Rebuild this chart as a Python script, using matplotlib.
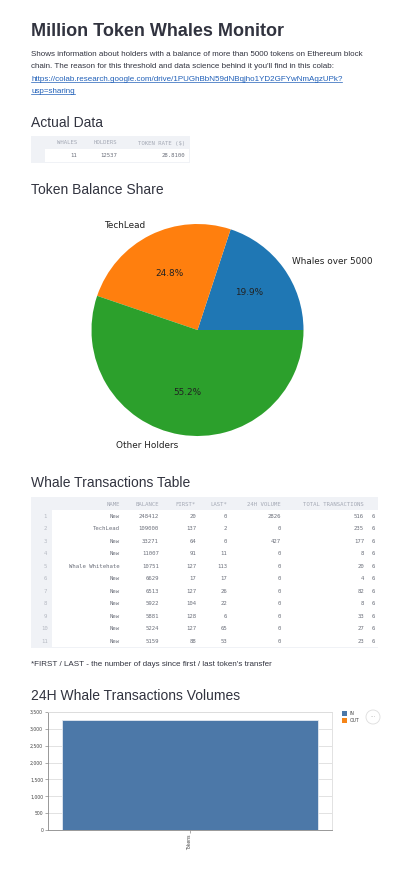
import numpy as np
import matplotlib.pyplot as plt
from matplotlib.patches import Rectangle, Ellipse
from matplotlib.lines import Line2D
from matplotlib.ticker import FuncFormatter

W, H = 401, 871

# ---- data ----
summary_cols = ['WHALES', 'HOLDERS', 'TOKEN RATE ($)']
summary_vals = ['11', '12537', '28.8100']

share_labels = ['Whales over 5000', 'TechLead', 'Other Holders']
share_values = [19.94, 24.84, 55.22]

table_cols = ['NAME', 'BALANCE', 'FIRST*', 'LAST*', '24H VOLUME', 'TOTAL TRANSACTIONS']
whale_names = ['New', 'TechLead', 'New', 'New', 'Whale Whitehate', 'New',
               'New', 'New', 'New', 'New', 'New']
whale_balance = [248412, 109000, 33271, 11007, 10751, 6629, 6513, 5922, 5881, 5224, 5159]
whale_first = [20, 137, 64, 91, 127, 17, 127, 104, 128, 127, 88]
whale_last = [0, 2, 0, 11, 113, 17, 26, 22, 6, 65, 53]
whale_vol24 = [2826, 0, 427, 0, 0, 0, 0, 0, 0, 0, 0]
whale_total_tx = [516, 235, 177, 8, 20, 4, 82, 8, 33, 27, 23]

vol_categories = ['Tokens']
vol_in = [3253]
vol_out = [0]

TEXT = '#31333F'
HEAD_FONT = ['Liberation Sans', 'DejaVu Sans']
MONO = 'DejaVu Sans Mono'

fig = plt.figure(figsize=(W / 100, H / 100), dpi=100)
fig.patch.set_facecolor('white')


def fx(x):
    return x / W


def fy(y):
    return 1 - y / H


def txt(x, y, s, **kw):
    return fig.text(fx(x), fy(y), s, **kw)


def rect(x0, y0, x1, y1, color, **kw):
    r = Rectangle((fx(x0), fy(y1)), (x1 - x0) / W, (y1 - y0) / H,
                  transform=fig.transFigure, facecolor=color, edgecolor='none', **kw)
    fig.add_artist(r)
    return r


# ---- header / description ----
txt(31, 36, 'Million Token Whales Monitor', fontsize=13, fontweight='bold',
    family=HEAD_FONT, color=TEXT, va='baseline')

desc = ['Shows information about holders with a balance of more than 5000 tokens on Ethereum block',
        "chain. The reason for this threshold and data science behind it you'll find in this colab:"]
link = ['https://colab.research.google.com/drive/1PUGhBbN59dNBqjho1YD2GFYwNmAgzUPk?',
        'usp=sharing']
line_y = [56, 68.5, 81, 93]
for s, y in zip(desc, line_y[:2]):
    txt(31, y, s, fontsize=5.75, family=HEAD_FONT, color=TEXT, va='baseline')
link_texts = []
for s, y in zip(link, line_y[2:]):
    link_texts.append((txt(31, y, s, fontsize=5.75, family=HEAD_FONT, color='#1f5fb8',
                           va='baseline'), y))

# ---- section headings ----
for s, y in [('Actual Data', 127), ('Token Balance Share', 194),
             ('Whale Transactions Table', 487), ('24H Whale Transactions Volumes', 700)]:
    txt(31, y, s, fontsize=10, family=HEAD_FONT, color=TEXT, va='baseline')

# ---- small summary table ----
rect(31, 136, 190, 163, '#f0f2f6')
rect(45, 149, 189, 162, 'white')
sum_right = [77, 117, 185]
for c, v, xr in zip(summary_cols, summary_vals, sum_right):
    txt(xr, 143, c, fontsize=4.1, family=MONO, color='#a3a8b4', ha='right', va='center')
    txt(xr, 155.5, v, fontsize=4.1, family=MONO, color='#6b6f7a', ha='right', va='center')

# ---- pie chart ----
cx, cy, R = 197.5, 330, 106
pax = fig.add_axes([fx(cx - R), fy(cy + R), 2 * R / W, 2 * R / H])
pax.pie(share_values, labels=share_labels, autopct='%1.1f%%',
        textprops={'fontsize': 6.4, 'color': '#222222'})
pax.set_xlim(-1, 1)
pax.set_ylim(-1, 1)
pax.axis('off')

# ---- whale transactions table ----
tbl = rect(31, 497, 378, 648, '#f0f2f6')
rect(52, 510, 378, 647, 'white')
col_right = [120, 159, 196, 227, 281, 364]
for c, xr in zip(table_cols, col_right):
    txt(xr, 504, c, fontsize=4.1, family=MONO, color='#a3a8b4', ha='right', va='center')
rows = zip(whale_names, whale_balance, whale_first, whale_last, whale_vol24, whale_total_tx)
for i, vals in enumerate(rows):
    y = 516 + i * 12.5
    txt(45, y, str(i + 1), fontsize=4.1, family=MONO, color='#b5b9c2', ha='center', va='center')
    for v, xr in zip(vals, col_right):
        txt(xr, y, str(v), fontsize=4.1, family=MONO, color='#6b6f7a', ha='right', va='center')
    t = txt(372, y, '6', fontsize=4.1, family=MONO, color='#6b6f7a', ha='left', va='center')
    t.set_clip_path(tbl)

txt(31, 666, "*FIRST / LAST - the number of days since first / last token's transfer",
    fontsize=5.75, family=HEAD_FONT, color=TEXT, va='baseline')

# ---- 24h volumes bar chart ----
bax = fig.add_axes([fx(48), fy(830), 284 / W, 118 / H])
x = np.arange(len(vol_categories))
bax.bar(x, vol_in, width=0.9, color='#4c78a8', edgecolor='#e4e9f0', linewidth=0.6, zorder=3)
bax.bar(x, vol_out, width=0.9, bottom=vol_in, color='#f58518', zorder=3)
bax.set_xlim(-0.5, len(vol_categories) - 0.5)
bax.set_ylim(0, 3500)
bax.set_yticks(np.arange(0, 3501, 500))
bax.yaxis.set_major_formatter(FuncFormatter(lambda v, p: f'{int(v):,}'))
bax.set_xticks(x)
bax.set_xticklabels(vol_categories, rotation=90)
bax.grid(axis='y', color='#dddddd', linewidth=0.6, zorder=0)
for side in ['top', 'right']:
    bax.spines[side].set_color('#dddddd')
for side in ['left', 'bottom']:
    bax.spines[side].set_color('#888888')
for sp in bax.spines.values():
    sp.set_linewidth(0.6)
bax.tick_params(labelsize=3.3, labelcolor='#444444', color='#888888', length=2.5, width=0.5, pad=1)

# legend
rect(342, 711, 347, 716, '#4c78a8')
rect(342, 718, 347, 723, '#f58518')
txt(350, 713.5, 'IN', fontsize=3.3, color='#444444', va='center')
txt(350, 720.5, 'OUT', fontsize=3.3, color='#444444', va='center')
fig.add_artist(Ellipse((fx(373), fy(717)), 14 / W, 14 / H, transform=fig.transFigure,
                       facecolor='white', edgecolor='#dddddd', linewidth=0.6))
txt(373, 717, '···', fontsize=4, color='#999999', ha='center', va='center')

# underline for the link
fig.canvas.draw()
for t, y in link_texts:
    bb = t.get_window_extent()
    fig.add_artist(Line2D([bb.x0 / W, bb.x1 / W], [fy(y + 1.5)] * 2,
                          transform=fig.transFigure, color='#1f5fb8', linewidth=0.5))

fig.savefig('out.png', dpi=100, facecolor='white')
